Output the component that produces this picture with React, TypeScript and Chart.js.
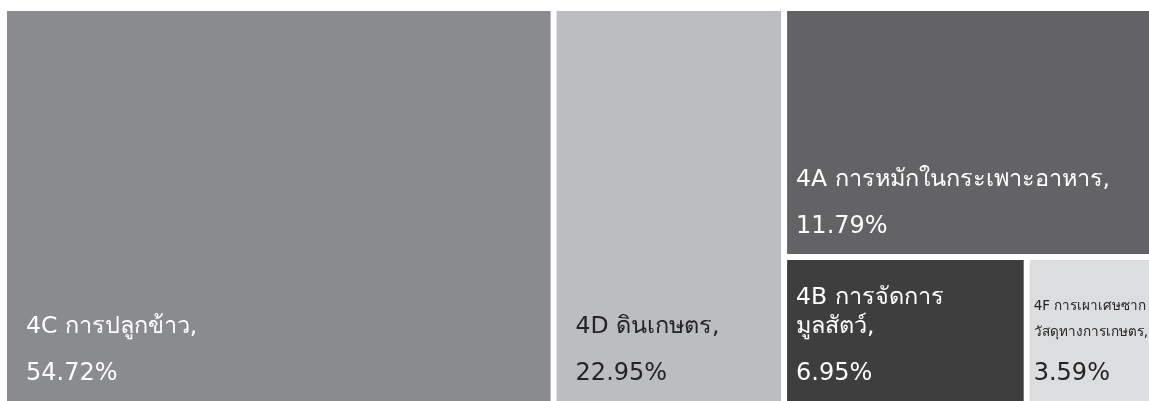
import React, { useEffect, useRef } from "react";
import { Chart, registerables } from "chart.js";

Chart.register(...registerables);

// ---- data ----
const codes = ["4C", "4D", "4A", "4B", "4F"];
// "\u200B" marks the Thai word boundary where a name may wrap
const names = [
  "การปลูกข้าว",
  "ดินเกษตร",
  "การหมักในกระเพาะอาหาร",
  "การจัดการ\u200Bมูลสัตว์",
  "การเผาเศษซาก\u200Bวัสดุทางการเกษตร",
];
const shares = [54.72, 22.95, 11.79, 6.95, 3.59];
const cellColors = ["#8a8b8f", "#bcbdc1", "#636365", "#3e3e3e", "#dcdddf"];
const textColors = ["#ffffff", "#232323", "#ffffff", "#ffffff", "#232323"];

// axis ranges of the (hidden) value scales
const X_MAX = 114.3;
const Y_MAX = 18.75;

const GAP = 6;
const FONT = '"DejaVu Sans", "Noto Sans", sans-serif';

type Rect = { x0: number; x1: number; y0: number; y1: number };

// treemap layout in data units: the two largest items are full-height
// columns, the rest is stacked in the last column (top item, then a row)
function layoutCells(values: number[], xMax: number): Rect[] {
  const rest = values.slice(2);
  const colH = rest.reduce((a, b) => a + b, 0);
  const rects: Rect[] = [];
  let x = 0;
  for (let i = 0; i < 2; i++) {
    rects.push({ x0: x, x1: x + values[i], y0: 0, y1: colH });
    x += values[i];
  }
  const x3 = x;
  rects.push({ x0: x3, x1: xMax, y0: 0, y1: rest[0] });
  const rowSum = rest.slice(1).reduce((a, b) => a + b, 0);
  let rx = x3;
  rest.slice(1).forEach((v, k, arr) => {
    const w = ((xMax - x3) * v) / rowSum;
    const x1 = k === arr.length - 1 ? xMax : rx + w;
    rects.push({ x0: rx, x1, y0: rest[0], y1: colH });
    rx = x1;
  });
  return rects;
}

const ZW = "\u200B";

// break opportunities: spaces and zero-width spaces
function segmentText(text: string): string[] {
  return text.split(/([ \u200B])/).filter((s) => s.length > 0);
}

const clean = (s: string) => s.split(ZW).join("").trim();

// one line if it fits, else the most balanced two-line split that fits
function wrapText(ctx: CanvasRenderingContext2D, text: string, maxW: number): string[] | null {
  const whole = clean(text);
  if (ctx.measureText(whole).width <= maxW) return [whole];
  const parts = segmentText(text);
  let best: string[] | null = null;
  let bestW = Infinity;
  for (let k = 1; k < parts.length; k++) {
    const a = clean(parts.slice(0, k).join(""));
    const b = clean(parts.slice(k).join(""));
    if (!a || !b) continue;
    const m = Math.max(ctx.measureText(a).width, ctx.measureText(b).width);
    if (m <= maxW && m < bestW) {
      bestW = m;
      best = [a, b];
    }
  }
  return best;
}

const treemapPlugin = {
  id: "treemapCells",
  afterDatasetsDraw(chart: any) {
    const { ctx, chartArea, scales } = chart;
    const xs = scales.x;
    const ys = scales.y;
    const rects = layoutCells(shares, xs.max);
    ctx.save();
    rects.forEach((r, i) => {
      const left = xs.getPixelForValue(r.x0);
      const right = Math.min(xs.getPixelForValue(r.x1), chartArea.right) - GAP;
      const top = ys.getPixelForValue(r.y0);
      const bottom = Math.min(ys.getPixelForValue(r.y1), chartArea.bottom) - GAP;
      const w = right - left;
      const h = bottom - top;
      ctx.fillStyle = cellColors[i];
      ctx.fillRect(left, top, w, h);

      // label, anchored bottom-left
      const padX = h > 300 ? 19 : w > 180 ? 9 : 4;
      const maxW = w - padX - (w > 180 ? padX : 0);
      const valueBase = bottom - 21;
      ctx.save();
      ctx.beginPath();
      ctx.rect(left, top, w, h);
      ctx.clip();
      ctx.fillStyle = textColors[i];
      ctx.textAlign = "left";
      ctx.textBaseline = "alphabetic";
      ctx.font = `24px ${FONT}`;
      ctx.fillText(`${shares[i].toFixed(2)}%`, left + padX, valueBase);

      const label = `${codes[i]} ${names[i]},`;
      let size = 23.5;
      let lines: string[] = [clean(label)];
      for (; size >= 11; size -= 0.5) {
        ctx.font = `${size}px ${FONT}`;
        const res = wrapText(ctx, label, maxW);
        if (res) {
          lines = res;
          break;
        }
      }
      const lineH = size >= 18 ? 29 : 26;
      const lastBase = valueBase - (size >= 18 ? 47 : 44);
      lines.forEach((ln, k) => {
        ctx.fillText(ln, left + padX, lastBase - (lines.length - 1 - k) * lineH);
      });
      ctx.restore();
    });
    ctx.restore();
  },
};

export default function App() {
  const ref = useRef<HTMLCanvasElement | null>(null);
  useEffect(() => {
    if (!ref.current) return;
    const chart = new Chart(ref.current, {
      type: "scatter",
      data: { labels: codes, datasets: [{ label: "share", data: [] }] },
      options: {
        animation: false,
        responsive: false,
        devicePixelRatio: 1,
        layout: { padding: { left: 7, top: 11, right: 0, bottom: 0 } },
        plugins: { legend: { display: false }, tooltip: { enabled: false } },
        scales: {
          x: { type: "linear", min: 0, max: X_MAX, display: false },
          y: { type: "linear", min: 0, max: Y_MAX, reverse: true, display: false },
        },
      },
      plugins: [treemapPlugin],
    } as any);
    return () => chart.destroy();
  }, []);
  return (
    <div
      style={{
        position: "fixed",
        left: 0,
        top: 0,
        width: 1149,
        height: 401,
        overflow: "hidden",
        background: "#ffffff",
      }}
    >
      <canvas
        ref={ref}
        width={1155}
        height={407}
        style={{ display: "block", width: 1155, height: 407 }}
      />
    </div>
  );
}
